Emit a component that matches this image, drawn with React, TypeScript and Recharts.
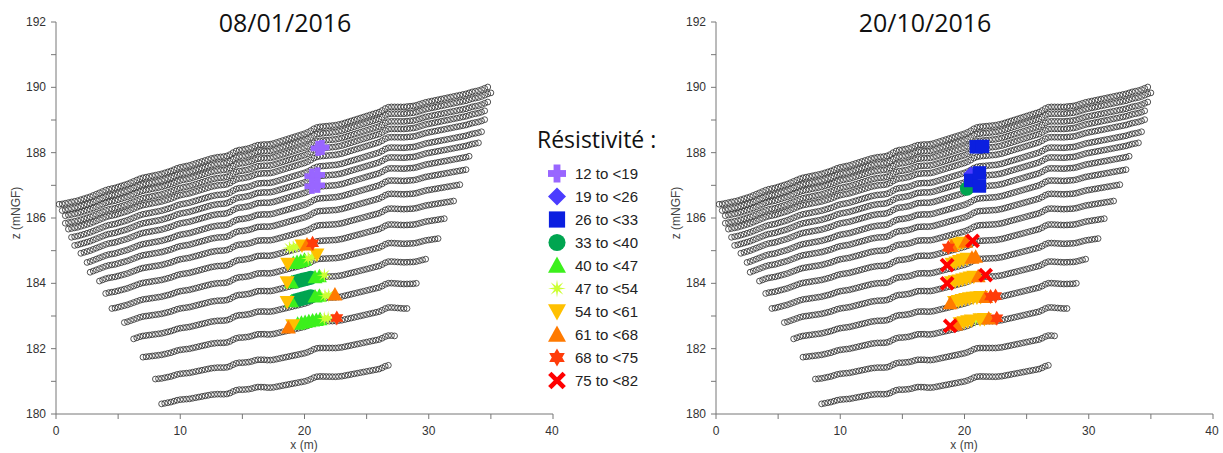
import React from "react";
import { ScatterChart, Scatter, XAxis, YAxis } from "recharts";

// elevation of the upper measurement row, read every 0.25 m from x = 0 to 35
const surfaceStep = 0.25;
const surfaceZ = [
  186.4, 186.42, 186.43, 186.45, 186.47, 186.49, 186.51, 186.53, 186.56, 186.59, 186.62, 186.65,
  186.69, 186.73, 186.77, 186.81, 186.85, 186.88, 186.9, 186.92, 186.95, 186.98, 187.01, 187.04,
  187.08, 187.12, 187.16, 187.2, 187.23, 187.25, 187.27, 187.29, 187.31, 187.33, 187.35, 187.38,
  187.41, 187.44, 187.48, 187.52, 187.55, 187.57, 187.59, 187.61, 187.64, 187.67, 187.7, 187.73,
  187.76, 187.79, 187.82, 187.84, 187.86, 187.87, 187.88, 187.9, 187.94, 188.0, 188.05, 188.08,
  188.09, 188.11, 188.13, 188.16, 188.2, 188.23, 188.24, 188.25, 188.25, 188.26, 188.28, 188.31,
  188.34, 188.37, 188.4, 188.43, 188.46, 188.49, 188.52, 188.55, 188.58, 188.62, 188.67, 188.73,
  188.77, 188.79, 188.8, 188.81, 188.82, 188.83, 188.84, 188.86, 188.88, 188.91, 188.94, 188.97,
  189.0, 189.03, 189.06, 189.09, 189.12, 189.15, 189.18, 189.21, 189.24, 189.29, 189.35, 189.39,
  189.4, 189.4, 189.4, 189.4, 189.4, 189.41, 189.42, 189.43, 189.45, 189.48, 189.51, 189.54,
  189.56, 189.58, 189.6, 189.62, 189.64, 189.66, 189.68, 189.7, 189.72, 189.74, 189.76, 189.78,
  189.8, 189.83, 189.86, 189.88, 189.9, 189.93, 189.97, 190.01, 190.04,
];

// each measurement row: first / last x and how far it sits below the upper row at both ends
const rowStart = [0.25, 0.5, 0.75, 0.75, 1.0, 1.25, 1.5, 2.0, 2.5, 2.75, 3.5, 4.0, 4.5, 5.5, 6.25, 7.0, 8.0, 8.5];
const rowEnd = [34.75, 35.0, 34.75, 34.5, 34.5, 34.25, 34.0, 33.25, 33.0, 32.5, 32.0, 31.25, 30.75, 29.75, 29.0, 28.25, 27.25, 26.75];
const dropLeft = [0, 0.2, 0.38, 0.61, 0.81, 1.08, 1.35, 1.64, 1.98, 2.31, 2.7, 3.16, 3.67, 4.21, 4.82, 5.49, 6.24, 7.04];
const dropRight = [0, 0.21, 0.46, 0.69, 0.96, 1.29, 1.6, 1.94, 2.32, 2.74, 3.2, 3.68, 4.25, 4.8, 5.45, 6.18, 7.01, 7.9];

const classLabels = ["12 to <19", "19 to <26", "26 to <33", "33 to <40", "40 to <47", "47 to <54", "54 to <61", "61 to <68", "68 to <75", "75 to <82"];
const classColors = ["#9966ff", "#4b3cff", "#0b1fe0", "#00a550", "#3cf01c", "#ccff33", "#ffc000", "#ff7a00", "#ff3c0a", "#ff0000"];
const classShapes = ["plus", "diamond", "square", "circle", "triUp", "burst", "triDown", "triUp", "star6", "cross"];

// 08/01/2016 : [x, z] of the classed points
const jan12 = [[21.1, 188.13], [21.4, 188.16], [20.6, 187.28], [21.05, 187.32], [20.6, 186.97], [21.05, 187.0]];
const jan33 = [[19.3, 184.05], [19.6, 184.08], [19.9, 184.11], [20.2, 184.14], [20.5, 184.17], [19.3, 183.48], [19.6, 183.51], [19.9, 183.54], [20.2, 183.57], [20.5, 183.6]];
const jan40 = [[19.1, 184.62], [19.4, 184.65], [19.7, 184.68], [20.0, 184.72], [18.95, 184.03], [20.85, 184.19], [21.2, 184.22], [18.95, 183.45], [20.85, 183.6], [21.2, 183.62], [19.45, 182.76], [19.75, 182.79], [20.05, 182.82], [20.35, 182.84], [20.65, 182.86], [20.95, 182.88], [21.25, 182.9]];
const jan47 = [[18.8, 185.08], [19.1, 185.1], [19.4, 185.13], [20.3, 184.76], [20.6, 184.8], [21.6, 184.25], [21.65, 183.62], [21.95, 183.63], [21.6, 182.92], [21.9, 182.93]];
const jan54 = [[19.8, 185.16], [18.65, 184.6], [21.0, 184.88], [18.6, 184.03], [18.6, 183.43], [19.05, 182.72]];
const jan61 = [[20.2, 185.19], [22.45, 183.66], [18.7, 182.65]];
const jan68 = [[20.65, 185.23], [22.6, 182.94]];

// 20/10/2016
const oct19 = [[20.5, 187.35]];
const oct26 = [[20.95, 188.18], [21.45, 188.19], [20.5, 187.15], [21.2, 187.38], [21.2, 186.98]];
const oct33 = [[20.2, 186.9]];
const oct47 = [[20.9, 182.88]];
const oct54 = [[19.3, 185.18], [19.6, 185.21], [19.85, 185.24], [19.0, 184.6], [19.3, 184.64], [19.6, 184.68], [19.9, 184.72], [20.2, 184.75], [18.95, 184.03], [19.25, 184.06], [19.55, 184.09], [19.85, 184.12], [20.15, 184.15], [20.45, 184.18], [20.75, 184.2], [19.2, 183.43], [19.5, 183.46], [19.8, 183.49], [20.1, 183.52], [20.4, 183.54], [20.7, 183.56], [21.0, 183.57], [21.3, 183.58], [19.65, 182.78], [19.95, 182.81], [20.25, 182.84], [20.55, 182.86], [21.25, 182.9], [21.6, 182.91]];
const oct61 = [[18.95, 185.14], [20.1, 185.27], [20.6, 184.78], [20.9, 184.81], [21.1, 184.22], [18.85, 183.39], [21.7, 183.58], [19.3, 182.74], [21.95, 182.92]];
const oct68 = [[18.7, 185.1], [22.1, 183.6], [22.5, 183.61], [22.6, 182.93]];
const oct75 = [[20.65, 185.3], [18.6, 184.56], [18.6, 184.0], [21.7, 184.25], [18.85, 182.7]];

const xTicks = [0, 5, 10, 15, 20, 25, 30, 35, 40];
const yTicks = [180, 181, 182, 183, 184, 185, 186, 187, 188, 189, 190, 191, 192];

const sans = "'Liberation Sans', Arial, sans-serif";

// all measurement points (same grid on both dates)
const gridPoints = rowStart.flatMap((xs, r) => {
  const pts: { x: number; z: number }[] = [];
  const i0 = Math.round(xs / surfaceStep);
  const i1 = Math.round(rowEnd[r] / surfaceStep);
  for (let i = i0; i <= i1; i++) {
    const x = i * surfaceStep;
    const t = (x - xs) / (rowEnd[r] - xs);
    pts.push({ x, z: surfaceZ[i] - (dropLeft[r] + (dropRight[r] - dropLeft[r]) * t) });
  }
  return pts;
});

const toPts = (arr: number[][]) => arr.map(([x, z]) => ({ x, z }));

function Marker({ kind, color, cx, cy, s }: { kind: string; color: string; cx: number; cy: number; s: number }) {
  const h = s / 2;
  if (kind === "plus") {
    const w = s * 0.38;
    return (
      <g fill={color}>
        <rect x={cx - h} y={cy - w / 2} width={s} height={w} />
        <rect x={cx - w / 2} y={cy - h} width={w} height={s} />
      </g>
    );
  }
  if (kind === "diamond") {
    return <polygon points={`${cx},${cy - h} ${cx + h},${cy} ${cx},${cy + h} ${cx - h},${cy}`} fill={color} />;
  }
  if (kind === "square") {
    const q = h * 0.9;
    return <rect x={cx - q} y={cy - q} width={2 * q} height={2 * q} fill={color} />;
  }
  if (kind === "circle") {
    return <circle cx={cx} cy={cy} r={h * 0.95} fill={color} />;
  }
  if (kind === "triUp") {
    return <polygon points={`${cx},${cy - h} ${cx + h},${cy + h * 0.8} ${cx - h},${cy + h * 0.8}`} fill={color} />;
  }
  if (kind === "triDown") {
    return <polygon points={`${cx},${cy + h} ${cx + h},${cy - h * 0.8} ${cx - h},${cy - h * 0.8}`} fill={color} />;
  }
  if (kind === "burst" || kind === "star6") {
    const n = kind === "burst" ? 8 : 6;
    const inner = kind === "burst" ? 0.3 : 0.58;
    const pts: string[] = [];
    for (let k = 0; k < n * 2; k++) {
      const a = (Math.PI * k) / n - Math.PI / 2;
      const r = k % 2 === 0 ? h : h * inner;
      pts.push(`${cx + r * Math.cos(a)},${cy + r * Math.sin(a)}`);
    }
    return <polygon points={pts.join(" ")} fill={color} />;
  }
  const d = h * 0.8;
  return (
    <g stroke={color} strokeWidth={s * 0.26}>
      <line x1={cx - d} y1={cy - d} x2={cx + d} y2={cy + d} />
      <line x1={cx - d} y1={cy + d} x2={cx + d} y2={cy - d} />
    </g>
  );
}

const YTick = ({ x, y, payload }: any) =>
  payload.value % 2 === 0 ? (
    <text x={x} y={y} dy={4} textAnchor="end" fontSize={12} fill="#333" fontFamily={sans}>
      {payload.value}
    </text>
  ) : (
    <g />
  );

const XTick = ({ x, y, payload }: any) =>
  payload.value % 10 === 0 ? (
    <text x={x} y={y} dy={12} textAnchor="middle" fontSize={12} fill="#333" fontFamily={sans}>
      {payload.value}
    </text>
  ) : (
    <g />
  );

function Panel({ left, series, order }: { left: number; series: number[][][]; order: number[] }) {
  return (
    <div style={{ position: "absolute", left, top: 0 }}>
      <ScatterChart width={560} height={453} margin={{ top: 22, right: 7, bottom: 0, left: 0 }}>
        <XAxis
          type="number"
          dataKey="x"
          domain={[0, 40]}
          ticks={xTicks}
          height={39}
          stroke="#777"
          tickSize={5}
          tickMargin={4}
          tick={<XTick />}
          allowDataOverflow
        />
        <YAxis
          type="number"
          dataKey="z"
          domain={[180, 192]}
          ticks={yTicks}
          width={56}
          stroke="#777"
          tickSize={5}
          tickMargin={5}
          tick={<YTick />}
          allowDataOverflow
        />
        <Scatter
          data={gridPoints}
          isAnimationActive={false}
          shape={(p: any) => <circle cx={p.cx} cy={p.cy} r={2.9} fill="none" stroke="#333" strokeWidth={0.85} />}
        />
        {order.map((c) =>
          series[c].length ? (
            <Scatter
              key={c}
              data={toPts(series[c])}
              isAnimationActive={false}
              shape={(p: any) => <Marker kind={classShapes[c]} color={classColors[c]} cx={p.cx} cy={p.cy} s={15} />}
            />
          ) : null
        )}
      </ScatterChart>
    </div>
  );
}

export default function App() {
  const janSeries = [jan12, [], [], jan33, jan40, jan47, jan54, jan61, jan68, []];
  const octSeries = [[], oct19, oct26, oct33, [], oct47, oct54, oct61, oct68, oct75];
  return (
    <div style={{ position: "absolute", left: 0, top: 0, width: 1223, height: 453, background: "#fff", overflow: "hidden" }}>
      <Panel left={0} series={janSeries} order={[0, 1, 2, 3, 4, 5, 6, 7, 8, 9]} />
      <Panel left={660} series={octSeries} order={[1, 3, 2, 4, 5, 6, 7, 8, 9, 0]} />
      <svg width={1223} height={453} style={{ position: "absolute", left: 0, top: 0, pointerEvents: "none" }}>
        <text x={285} y={31.5} textAnchor="middle" fontSize={25} fontFamily="'Open Sans', sans-serif" fill="#111">
          08/01/2016
        </text>
        <text x={925} y={31.5} textAnchor="middle" fontSize={25} fontFamily="'Open Sans', sans-serif" fill="#111">
          20/10/2016
        </text>
        {[0, 660].map((dx) => (
          <g key={dx} fontFamily={sans} fontSize={12} fill="#444">
            <text transform={`translate(${dx + 16},213) rotate(-90)`} textAnchor="middle" dy={4}>
              z (mNGF)
            </text>
            <text x={dx + 304} y={449} textAnchor="middle">
              x (m)
            </text>
          </g>
        ))}
        <text x={537} y={148} fontSize={23} fontFamily="'Open Sans', sans-serif" fill="#111">
          Résistivité :
        </text>
        {classLabels.map((lab, i) => (
          <g key={lab}>
            <Marker kind={classShapes[i]} color={classColors[i]} cx={557} cy={173.5 + i * 23} s={18} />
            <text x={575} y={173.5 + i * 23 + 5.5} fontSize={15} fontFamily={sans} fill="#222">
              {lab}
            </text>
          </g>
        ))}
      </svg>
    </div>
  );
}
